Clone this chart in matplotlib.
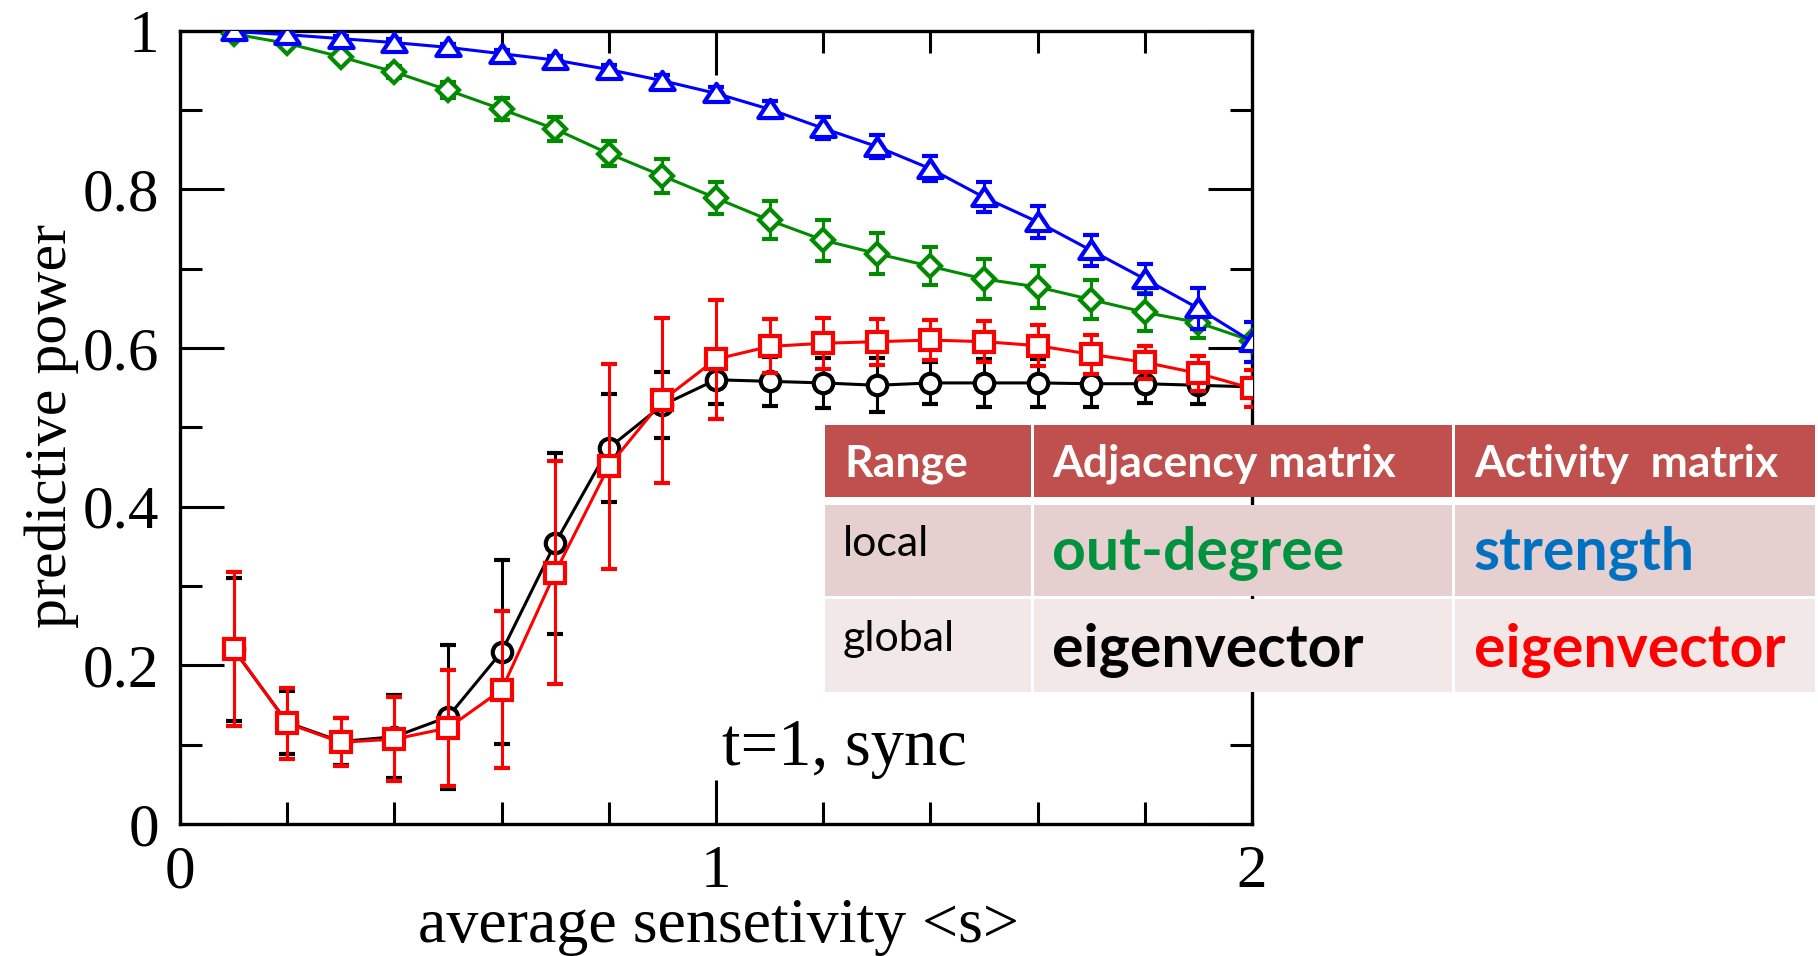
import matplotlib
matplotlib.use("Agg")
import matplotlib.pyplot as plt
from matplotlib.patches import Rectangle
from matplotlib.path import Path
from matplotlib.ticker import MultipleLocator, FixedLocator

# ---------------- data ----------------
s_vals = [0.1, 0.2, 0.3, 0.4, 0.5, 0.6, 0.7, 0.8, 0.9, 1.0,
          1.1, 1.2, 1.3, 1.4, 1.5, 1.6, 1.7, 1.8, 1.9, 2.0]

strength = [0.999, 0.995, 0.990, 0.985, 0.979, 0.971, 0.963, 0.951, 0.937, 0.921,
            0.901, 0.877, 0.854, 0.826, 0.790, 0.759, 0.723, 0.687, 0.650, 0.608]
strength_err = [0.003, 0.003, 0.003, 0.004, 0.004, 0.005, 0.005, 0.006, 0.007, 0.008,
                0.011, 0.014, 0.014, 0.016, 0.019, 0.020, 0.020, 0.019, 0.026, 0.025]

outdegree = [0.996, 0.984, 0.967, 0.948, 0.925, 0.901, 0.876, 0.845, 0.817, 0.789,
             0.761, 0.736, 0.719, 0.703, 0.687, 0.677, 0.661, 0.645, 0.632, 0.609]
outdegree_err = [0.003, 0.004, 0.005, 0.007, 0.010, 0.014, 0.015, 0.016, 0.021, 0.020,
                 0.024, 0.026, 0.026, 0.024, 0.025, 0.027, 0.025, 0.024, 0.019, 0.005]

adj_eigen = [0.220, 0.128, 0.104, 0.110, 0.135, 0.217, 0.354, 0.474, 0.528, 0.560,
             0.558, 0.556, 0.553, 0.556, 0.556, 0.556, 0.555, 0.555, 0.553, 0.551]
adj_eigen_err = [0.090, 0.040, 0.030, 0.052, 0.091, 0.116, 0.114, 0.068, 0.042, 0.031,
                 0.031, 0.031, 0.034, 0.027, 0.030, 0.030, 0.029, 0.024, 0.023, 0.010]

act_eigen = [0.221, 0.127, 0.103, 0.107, 0.121, 0.169, 0.317, 0.451, 0.534, 0.586,
             0.602, 0.606, 0.608, 0.610, 0.608, 0.603, 0.592, 0.582, 0.568, 0.549]
act_eigen_err = [0.097, 0.045, 0.030, 0.053, 0.073, 0.099, 0.140, 0.129, 0.104, 0.075,
                 0.034, 0.032, 0.029, 0.025, 0.026, 0.026, 0.025, 0.021, 0.022, 0.023]

x_ticks = [0, 1, 2]
y_ticks = [0, 0.2, 0.4, 0.6, 0.8, 1.0]
y_tick_labels = ["0", "0.2", "0.4", "0.6", "0.8", "1"]
x_label = "average sensetivity <s>"
y_label = "predictive power"
annotation = "t=1, sync"

table_header = ["Range", "Adjacency matrix", "Activity  matrix"]
table_rows = [["local", "out-degree", "strength"],
              ["global", "eigenvector", "eigenvector"]]
table_text_colors = [["black", "#00923F", "#0070C0"],
                     ["black", "black", "#FF0000"]]

# ---------------- figure ----------------
W, H = 1818, 956
fig = plt.figure(figsize=(W / 100, H / 100), dpi=100)
plt.rcParams["font.family"] = ["Liberation Serif", "DejaVu Serif"]

ax_l, ax_r, ax_t, ax_b = 180, 1252, 30.7, 824
ax = fig.add_axes([ax_l / W, 1 - ax_b / H, (ax_r - ax_l) / W, (ax_b - ax_t) / H])

tri = Path([(0, 0.8), (-1, -0.7), (1, -0.7), (0, 0.8)],
           [Path.MOVETO, Path.LINETO, Path.LINETO, Path.CLOSEPOLY])

common = dict(lw=2.2, elinewidth=2.2, capsize=5.8, capthick=2.3, mfc="white", mew=3.0)

ax.errorbar(s_vals, adj_eigen, yerr=adj_eigen_err, color="black", mec="black",
            marker="o", ms=14, zorder=3, **common)
ax.errorbar(s_vals, act_eigen, yerr=act_eigen_err, color="#FF0000", mec="#FF0000",
            marker="s", ms=14, zorder=4, **common)
ax.errorbar(s_vals, outdegree, yerr=outdegree_err, color="#008B00", mec="#008B00",
            marker="D", ms=11, zorder=5, **common)
ax.errorbar(s_vals, strength, yerr=strength_err, color="#0000FF", mec="#0000FF",
            marker=tri, ms=17.5, zorder=6, **common)

ax.set_xlim(0, 2)
ax.set_ylim(0, 1)
ax.xaxis.set_major_locator(FixedLocator(x_ticks))
ax.xaxis.set_minor_locator(MultipleLocator(0.2))
ax.yaxis.set_major_locator(FixedLocator(y_ticks))
ax.yaxis.set_minor_locator(MultipleLocator(0.1))
ax.set_xticklabels([str(v) for v in x_ticks])
ax.set_yticklabels(y_tick_labels)
ax.tick_params(which="both", direction="in", top=True, right=True, width=2.2,
               labelsize=44, pad=15)
ax.tick_params(which="major", length=32)
ax.tick_params(which="minor", length=16)
for sp in ax.spines.values():
    sp.set_linewidth(2.4)

ax.set_xlabel(x_label, fontsize=46)
ax.set_ylabel(y_label, fontsize=43)
ax.xaxis.set_label_coords((718 - ax_l) / (ax_r - ax_l), (ax_b - 927) / (ax_b - ax_t))
ax.xaxis.label.set_va("center")
ax.yaxis.set_label_coords((52 - ax_l) / (ax_r - ax_l), (ax_b - 426) / (ax_b - ax_t))
ax.yaxis.label.set_va("center")

ax.text(1.012, 0.074, annotation, fontsize=48, ha="left", va="baseline", zorder=7)

# ---------------- table (on top) ----------------
tx0, tx1, ty0, ty1 = 825, 1815, 424, 693
tab = fig.add_axes([tx0 / W, 1 - ty1 / H, (tx1 - tx0) / W, (ty1 - ty0) / H], zorder=10)
tab.set_xlim(tx0, tx1)
tab.set_ylim(ty1, ty0)
tab.axis("off")

col_edges = [(825, 1031), (1034, 1452), (1455, 1815)]
row_edges = [(425, 497), (505, 596), (599, 692)]
row_fill = ["#C0504D", "#E6CFCF", "#F2E8E8"]
for ri, (r0, r1) in enumerate(row_edges):
    for c0, c1 in col_edges:
        tab.add_patch(Rectangle((c0, r0), c1 - c0, r1 - r0, facecolor=row_fill[ri],
                                edgecolor="none"))

sans = ["Lato", "DejaVu Sans"]
hx = [844, 1052, 1474]
for txt, x in zip(table_header, hx):
    tab.text(x, 476.7, txt, fontsize=32, fontweight="bold", color="white",
             family=sans, ha="left", va="baseline")

row_base_small = [555.7, 650.7]
row_base_big = [570, 666.7]
for ri, row in enumerate(table_rows):
    tab.text(843, row_base_small[ri], row[0], fontsize=31, color=table_text_colors[ri][0],
             family=sans, ha="left", va="baseline")
    for ci in (1, 2):
        tab.text(hx[ci], row_base_big[ri], row[ci], fontsize=42.5, fontweight="bold",
                 color=table_text_colors[ri][ci], family=sans, ha="left", va="baseline")

fig.savefig("out.png", dpi=100)
